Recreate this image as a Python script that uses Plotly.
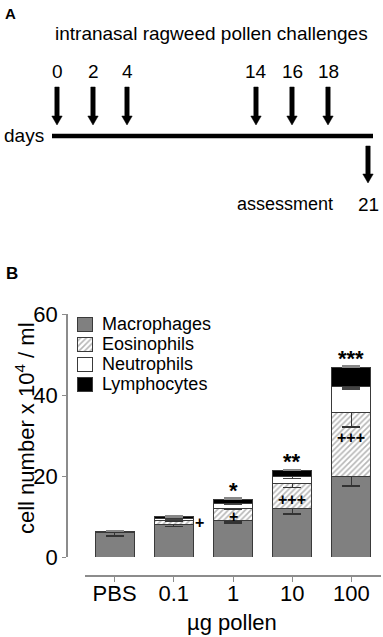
import plotly.graph_objects as go

# ---------------- data ----------------
doses = ["PBS", "0.1", "1", "10", "100"]
macrophages = [6.1, 8.1, 8.9, 12.1, 19.8]
eosinophils = [0.1, 1.0, 3.2, 6.1, 16.0]
neutrophils = [0.05, 0.3, 1.2, 1.7, 6.2]
lymphocytes = [0.05, 0.5, 1.0, 1.4, 4.9]

macrophages_err = [0.9, 0.6, 0.5, 1.5, 2.3]
eosinophils_err = [0.0, 0.3, 0.3, 1.1, 3.7]
neutrophils_err = [0.0, 0.2, 0.3, 0.5, 0.5]
lymphocytes_err = [0.1, 0.2, 0.3, 0.3, 0.3]

star_labels = ["", "", "*", "**", "***"]
plus_labels = ["", "+", "+", "+++", "+++"]

challenge_days = [0, 2, 4, 14, 16, 18]
assessment_day = 21
y_ticks = [0, 20, 40, 60]

# ---------------- styling / layout constants ----------------
FONT = "Liberation Sans, Arial, sans-serif"
W, H = 383, 637
GRAY = "#808080"
OUT = "#3a3a3a"
AX = "#8c8c8c"
PX_PER_UNIT = (557 - 314) / 60.0
# schematic (not-to-scale) x position of each day in panel A, in pixels
day_px = {0: 57, 2: 93, 4: 127, 14: 256, 16: 292, 18: 328, 21: 368}
# where the "+" marks sit inside the eosinophil segment (fraction of segment height)
plus_frac = [0, 0.5, 0.38, 0.36, 0.6]

fig = go.Figure()

HATCH = dict(shape="/", fgcolor="#707070", bgcolor="white", size=4, solidity=0.4)
series = [
    ("Macrophages", macrophages, macrophages_err, dict(color=GRAY), "minus", "#333333"),
    ("Eosinophils", eosinophils, eosinophils_err, dict(color="white", pattern=HATCH), "minus", "#333333"),
    ("Neutrophils", neutrophils, neutrophils_err, dict(color="white"), "minus", "#444444"),
    ("Lymphocytes", lymphocytes, lymphocytes_err, dict(color="black"), "plus", "#888888"),
]

for name, vals, err, mk, direction, ecol in series:
    mk = dict(mk)
    mk["line"] = dict(color=OUT, width=1)
    if direction == "minus":
        ey = dict(type="data", symmetric=False, array=[0] * len(err), arrayminus=err,
                  color=ecol, thickness=1.3, width=9)
    else:
        ey = dict(type="data", symmetric=False, array=err, arrayminus=[0] * len(err),
                  color=ecol, thickness=1.3, width=9)
    fig.add_trace(go.Bar(x=doses, y=vals, name=name, marker=mk, error_y=ey,
                         showlegend=False, xaxis="x", yaxis="y"))

annotations = []
totals = [m + e + n + l for m, e, n, l in zip(macrophages, eosinophils, neutrophils, lymphocytes)]
for i, s in enumerate(star_labels):
    if s:
        annotations.append(dict(x=i, y=totals[i] + 9.0 / PX_PER_UNIT, xref="x", yref="y",
                                text="<b>" + s + "</b>", showarrow=False, yanchor="middle",
                                font=dict(family=FONT, size=22, color="black")))
for i, p in enumerate(plus_labels):
    if not p:
        continue
    xx = i + 0.44 if i == 1 else i
    yy = macrophages[i] + eosinophils[i] * plus_frac[i]
    annotations.append(dict(x=xx, y=yy, xref="x", yref="y", text="<b>" + p + "</b>", showarrow=False,
                            font=dict(family=FONT, size=16, color="black")))

# ---------- manual legend (pixel overlay axes x2/y2) ----------
leg_rows = [324, 344, 364, 384]
for (name, vals, err, mk, d, ec), cy in zip(series, leg_rows):
    mk = dict(mk)
    mk["line"] = dict(color=OUT, width=1)
    fig.add_trace(go.Bar(x=[85], y=[14], base=[cy - 7], width=[15], marker=mk,
                         showlegend=False, xaxis="x2", yaxis="y2"))
    annotations.append(dict(x=100, y=cy, xref="x2", yref="y2", text=name, showarrow=False,
                            xanchor="left", yanchor="middle",
                            font=dict(family=FONT, size=18, color="black")))

# ---------- panel A schematic ----------
def arrow_poly(c, y0, y1, sw=2.2, hw=5.2, hh=9):
    xs = [c - sw, c + sw, c + sw, c + hw, c, c - hw, c - sw, c - sw, None]
    ys = [y0, y0, y1 - hh, y1 - hh, y1, y1 - hh, y1 - hh, y0, None]
    return xs, ys

ax_x, ax_y = [], []
for d in challenge_days:
    xs, ys = arrow_poly(day_px[d], 87, 125)
    ax_x += xs
    ax_y += ys
xs, ys = arrow_poly(day_px[assessment_day], 146, 183)
ax_x += xs
ax_y += ys
fig.add_trace(go.Scatter(x=ax_x, y=ax_y, mode="lines", fill="toself", fillcolor="black",
                         line=dict(color="black", width=0.5), showlegend=False,
                         xaxis="x2", yaxis="y2", hoverinfo="skip"))
fig.add_trace(go.Scatter(x=[52, 373], y=[136, 136], mode="lines", line=dict(color="black", width=4.5),
                         showlegend=False, xaxis="x2", yaxis="y2", hoverinfo="skip"))

tfont = dict(family=FONT, size=19, color="black")
annotations.append(dict(x=211, y=33, xref="x2", yref="y2", text="intranasal ragweed pollen challenges",
                        showarrow=False, font=tfont))
for d in challenge_days:
    annotations.append(dict(x=day_px[d], y=71, xref="x2", yref="y2", text=str(d), showarrow=False, font=tfont))
annotations.append(dict(x=46, y=135, xref="x2", yref="y2", text="days", showarrow=False,
                        xanchor="right", font=tfont))
annotations.append(dict(x=335, y=204, xref="x2", yref="y2", text="assessment", showarrow=False,
                        xanchor="right", font=dict(family=FONT, size=18, color="black")))
annotations.append(dict(x=day_px[assessment_day], y=204, xref="x2", yref="y2", text=str(assessment_day),
                        showarrow=False, font=tfont))
annotations.append(dict(x=10, y=13, xref="x2", yref="y2", text="<b>A</b>", showarrow=False,
                        font=dict(family=FONT, size=15, color="black")))
annotations.append(dict(x=11.5, y=273.5, xref="x2", yref="y2", text="<b>B</b>", showarrow=False,
                        font=dict(family=FONT, size=17, color="black")))

# axis titles
annotations.append(dict(x=25, y=428, xref="x2", yref="y2", text="cell number x 10<sup>4</sup> / ml",
                        showarrow=False, textangle=-90, font=dict(family=FONT, size=22, color="black")))
annotations.append(dict(x=232, y=622, xref="x2", yref="y2", text="µg pollen",
                        showarrow=False, font=dict(family=FONT, size=22, color="black")))

fig.update_layout(
    width=W, height=H,
    margin=dict(l=0, r=0, t=0, b=0, pad=0, autoexpand=False),
    paper_bgcolor="white", plot_bgcolor="rgba(0,0,0,0)",
    barmode="stack", bargap=0.34,
    font=dict(family=FONT, color="black"),
    annotations=annotations,
    xaxis=dict(domain=[85 / W, 381 / W], range=[-0.5, 4.5], type="category",
               anchor="free", position=1 - 576 / H,
               showline=True, linecolor=AX, linewidth=1.5,
               ticks="outside", ticklen=5, tickcolor=AX, tickwidth=1.2,
               ticklabelstandoff=-7,
               tickfont=dict(family=FONT, size=22, color="black"),
               showgrid=False, zeroline=False, fixedrange=True, automargin=False),
    yaxis=dict(domain=[1 - 557 / H, 1 - 314 / H], range=[0, 60],
               anchor="free", position=67 / W,
               tickvals=y_ticks,
               showline=True, linecolor=AX, linewidth=1.5,
               ticks="outside", ticklen=4, tickcolor=AX, tickwidth=1.2,
               tickfont=dict(family=FONT, size=22, color="black"),
               showgrid=False, zeroline=False, fixedrange=True, automargin=False),
    xaxis2=dict(domain=[0, 1], range=[0, W], anchor="y2", visible=False, fixedrange=True, automargin=False),
    yaxis2=dict(domain=[0, 1], range=[H, 0], anchor="x2", visible=False, fixedrange=True, automargin=False),
)

fig.write_html("out.html", config={"displayModeBar": False},
               post_script="document.body.style.margin='0px';document.body.style.padding='0px';")
